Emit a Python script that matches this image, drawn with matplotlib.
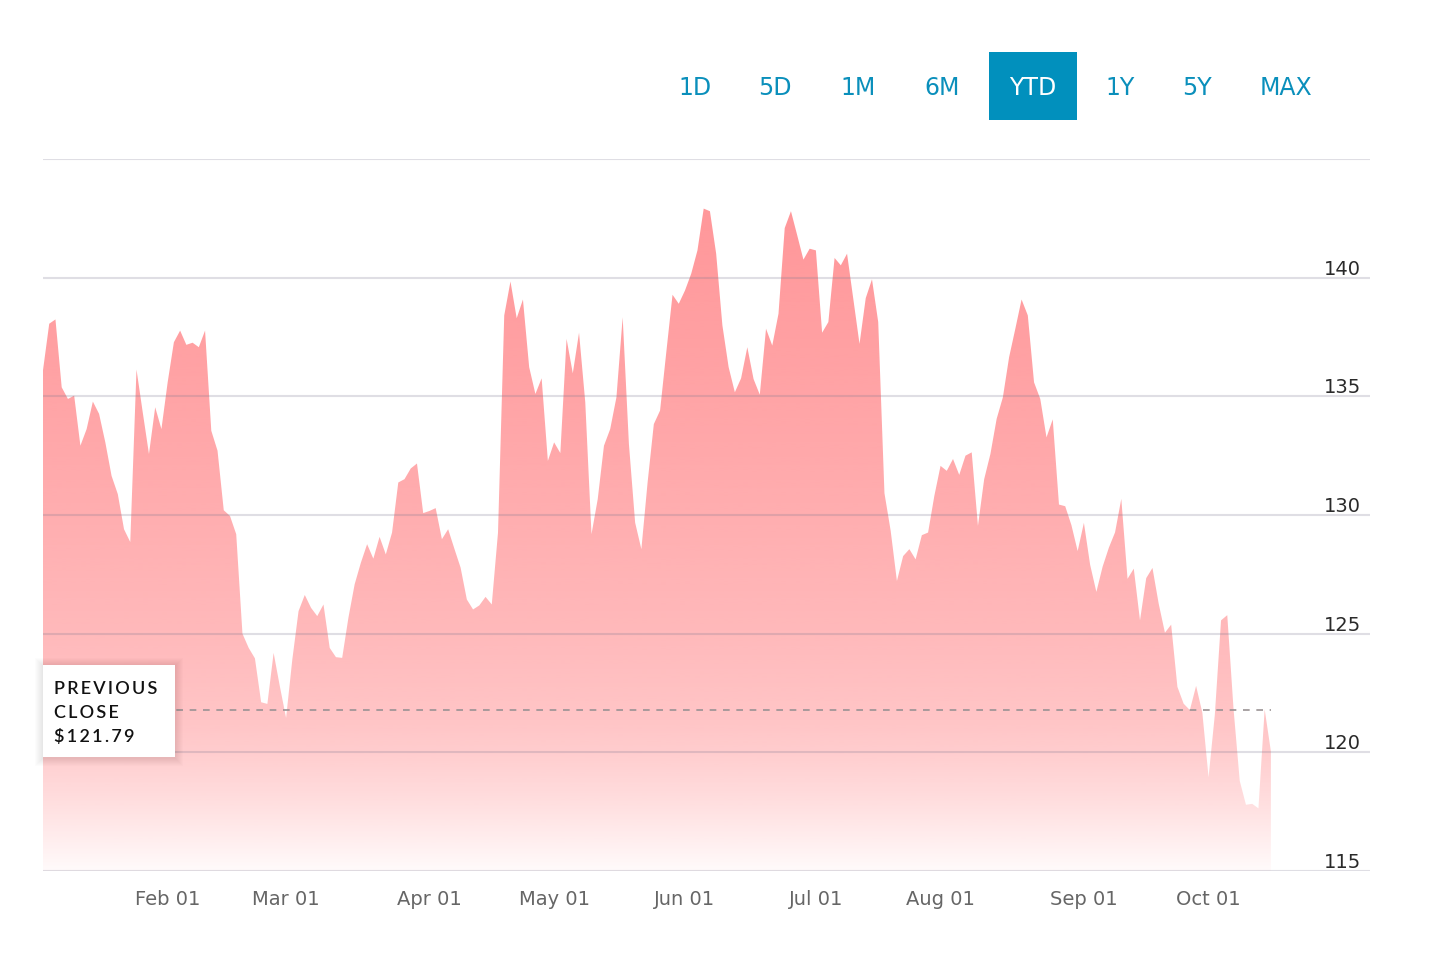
import numpy as np
import matplotlib
matplotlib.use("Agg")
import matplotlib.pyplot as plt
import matplotlib.transforms as mtransforms
from matplotlib.patches import Rectangle

# ---------------- data ----------------
prices = [
    136.1, 138.06, 138.24, 135.38, 134.89, 135.03, 132.92, 133.62, 134.78, 134.26,
    133.06, 131.65, 130.88, 129.4, 128.86, 136.13, 134.33, 132.57, 134.54, 133.62,
    135.59, 137.28, 137.77, 137.17, 137.26, 137.07, 137.77, 133.55, 132.71, 130.2,
    129.96, 129.19, 125.0, 124.4, 123.96, 122.11, 122.04, 124.19, 122.78, 121.45,
    123.91, 125.95, 126.63, 126.09, 125.74, 126.23, 124.4, 124.01, 123.98, 125.67,
    127.08, 127.99, 128.77, 128.16, 129.08, 128.34, 129.26, 131.37, 131.51, 131.96,
    132.17, 130.08, 130.17, 130.29, 128.98, 129.4, 128.58, 127.78, 126.44, 126.02,
    126.19, 126.55, 126.23, 129.26, 138.41, 139.84, 138.29, 139.08, 136.23, 135.1,
    135.76, 132.28, 133.06, 132.61, 137.42, 135.97, 137.68, 134.75, 129.19, 130.67,
    132.92, 133.62, 134.96, 138.33, 133.0, 129.68, 128.56, 131.37, 133.83, 134.4,
    136.86, 139.28, 138.9, 139.46, 140.17, 141.15, 142.91, 142.8, 141.01, 137.99,
    136.23, 135.17, 135.76, 137.07, 135.73, 135.07, 137.85, 137.14, 138.48, 142.09,
    142.8, 141.79, 140.76, 141.22, 141.15, 137.68, 138.13, 140.83, 140.52, 141.01,
    139.11, 137.21, 139.14, 139.93, 138.13, 130.92, 129.33, 127.22, 128.27, 128.56,
    128.13, 129.15, 129.26, 130.8, 132.07, 131.86, 132.36, 131.69, 132.5, 132.64,
    129.54, 131.51, 132.57, 134.05, 134.96, 136.65, 137.85, 139.08, 138.41, 135.59,
    134.89, 133.27, 134.03, 130.44, 130.37, 129.57, 128.48, 129.67, 127.9, 126.76,
    127.82, 128.62, 129.27, 130.68, 127.31, 127.74, 125.56, 127.34, 127.77, 126.26,
    125.04, 125.38, 122.76, 122.05, 121.78, 122.8, 121.67, 118.95, 121.57, 125.56,
    125.78, 121.85, 118.8, 117.79, 117.83, 117.64, 121.81, 120.04,
]
month_labels = ["Feb 01", "Mar 01", "Apr 01", "May 01", "Jun 01",
                "Jul 01", "Aug 01", "Sep 01", "Oct 01"]
month_pos = [20, 39, 62, 82, 103, 124, 144, 167, 187]   # trading-day index
y_grid = [115, 120, 125, 130, 135, 140, 145]
y_labels = ["115", "120", "125", "130", "135", "140"]
ranges = ["1D", "5D", "1M", "6M", "YTD", "1Y", "5Y", "MAX"]
selected_range = "YTD"
prev_close = 121.79
prev_close_text = ["PREVIOUS", "CLOSE", "$121.79"]

# ---------------- figure ----------------
W, H = 1442, 968
fig = plt.figure(figsize=(W / 100, H / 100), dpi=100)
fig.patch.set_facecolor("white")

ax_left, ax_right, ax_top, ax_bottom = 43, 1370, 159, 871
ax = fig.add_axes([ax_left / W, 1 - ax_bottom / H,
                   (ax_right - ax_left) / W, (ax_bottom - ax_top) / H])
x = np.arange(len(prices))
ymin, ymax = 115, 145
ax.set_xlim(0, 212.9)
ax.set_ylim(ymin, ymax)
for s in ax.spines.values():
    s.set_visible(False)

# area with vertical gradient
poly = ax.fill_between(x, prices, ymin, color="none", lw=0)
v = np.linspace(ymin, ymax, 400)
alpha = np.interp(v, [115, 116, 118, 120, 121, 125, 130, 135, 141, 145],
                  [0.03, 0.09, 0.21, 0.31, 0.35, 0.43, 0.50, 0.56, 0.62, 0.65])
base = np.array([255, 92, 96]) / 255.0
grad = np.zeros((len(v), 1, 4))
grad[:, 0, :3] = base
grad[:, 0, 3] = alpha
im = ax.imshow(grad, extent=[0, len(prices) - 1, ymin, ymax], origin="lower",
               aspect="auto", zorder=1, interpolation="bilinear")
im.set_clip_path(poly.get_paths()[0], transform=ax.transData)

# grid
ax.set_yticks(y_grid)
ax.tick_params(axis="y", length=0, labelleft=False, labelright=False)
ax.set_axisbelow(False)
ax.grid(axis="y", color="#7d7890", alpha=0.24, lw=1.5, zorder=2)
ax.grid(axis="x", visible=False)

# y labels (right, above gridline)
blend = mtransforms.blended_transform_factory(ax.transAxes, ax.transData)
off = mtransforms.offset_copy(blend, fig=fig, x=0, y=3, units="dots")
for lab in y_labels:
    ax.text(0.9935, float(lab), lab, transform=off, ha="right", va="baseline",
            fontsize=14, color="#2a2a2a", family="DejaVu Sans")

# x labels
ax.set_xticks(month_pos)
ax.set_xticklabels(month_labels)
ax.tick_params(axis="x", length=0, pad=13.5, labelsize=14, labelcolor="#666666")

# previous close dashed line
ax.plot([0, len(prices) - 1], [prev_close, prev_close], color="#9a9294",
        lw=1.2, ls=(0, (4, 4)), zorder=3)

# previous close box with soft shadow
bx0, by0, bx1, by1 = 43, 665, 175, 757
for i in range(1, 9):
    fig.add_artist(Rectangle(((bx0 - i) / W, 1 - (by1 + i + 1) / H),
                             (bx1 - bx0 + 2 * i) / W, (by1 - by0 + 2 * i) / H,
                             transform=fig.transFigure, facecolor="black",
                             edgecolor="none", alpha=0.011, zorder=4))
fig.add_artist(Rectangle((bx0 / W, 1 - by1 / H), (bx1 - bx0) / W, (by1 - by0) / H,
                         transform=fig.transFigure, facecolor="white",
                         edgecolor="none", zorder=5))
thin = "\u2009"
for i, line in enumerate(prev_close_text):
    fig.text(54 / W, 1 - (694 + 24 * i) / H, thin.join(line), fontsize=13,
             color="#111111", ha="left", va="baseline", weight="semibold",
             family=["Lato", "DejaVu Sans"], zorder=6)

# range buttons
btn_centers = [695, 775, 858, 942, 1033, 1120, 1197, 1286]
for lab, cx in zip(ranges, btn_centers):
    if lab == selected_range:
        fig.add_artist(Rectangle((989 / W, 1 - 120 / H), 88 / W, 68 / H,
                                 transform=fig.transFigure, facecolor="#0190bd",
                                 edgecolor="none", zorder=2))
        col = "white"
    else:
        col = "#0a8fbb"
    fig.text(cx / W, 1 - 88 / H, lab, fontsize=17, color=col, ha="center",
             va="center", family="DejaVu Sans", zorder=3)

fig.savefig("out.png", dpi=100, facecolor="white")
